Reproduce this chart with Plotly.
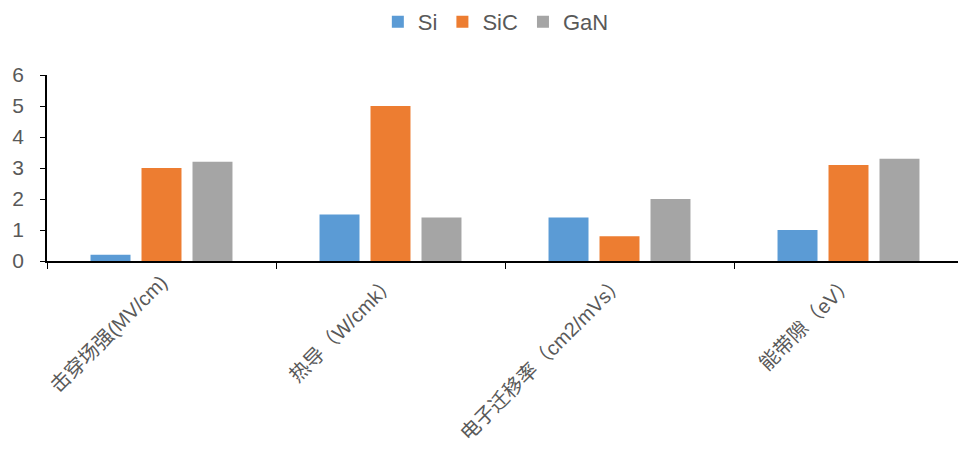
import plotly.graph_objects as go

categories = ["击穿场强(MV/cm)", "热导（W/cmk）", "电子迁移率（cm2/mVs）", "能带隙（eV）"]
series_names = ["Si", "SiC", "GaN"]
si_values = [0.2, 1.5, 1.4, 1.0]
sic_values = [3.0, 5.0, 0.8, 3.1]
gan_values = [3.2, 1.4, 2.0, 3.3]
y_ticks = [0, 1, 2, 3, 4, 5, 6]

colors = ["#5B9BD5", "#ED7D31", "#A5A5A5"]
font_family = "Liberation Sans, Arial, Noto Sans CJK SC, sans-serif"

fig = go.Figure()
for name, vals, col in zip(series_names, [si_values, sic_values, gan_values], colors):
    fig.add_trace(go.Bar(name=name, x=categories, y=vals, marker=dict(color=col, line=dict(width=0))))

fig.update_layout(
    width=958, height=444,
    margin=dict(l=39, r=3, t=67, b=191, autoexpand=False),
    paper_bgcolor="white", plot_bgcolor="white",
    barmode="group", bargap=0.332, bargroupgap=0.216,
    font=dict(family=font_family, color="#595959"),
    legend=dict(orientation="h", x=0.49, xanchor="center", y=1.285, yanchor="middle",
                font=dict(size=22, color="#595959"), itemwidth=30, traceorder="normal"),
    showlegend=True,
)
fig.update_xaxes(
    type="category", tickson="boundaries", ticks="outside", ticklen=6, tickcolor="black",
    showline=True, linecolor="black", linewidth=1.5, tickangle=-45, automargin=False,
    tickfont=dict(size=20, color="#595959", family=font_family), showgrid=False,
)
fig.update_yaxes(
    range=[0, 6], tickvals=y_ticks, ticks="outside", ticklen=5, tickcolor="black",
    showline=True, linecolor="black", linewidth=1.5, showgrid=False, zeroline=False,
    automargin=False, ticklabelstandoff=12, tickfont=dict(size=21, color="#595959"),
)
fig.write_html("out.html")
